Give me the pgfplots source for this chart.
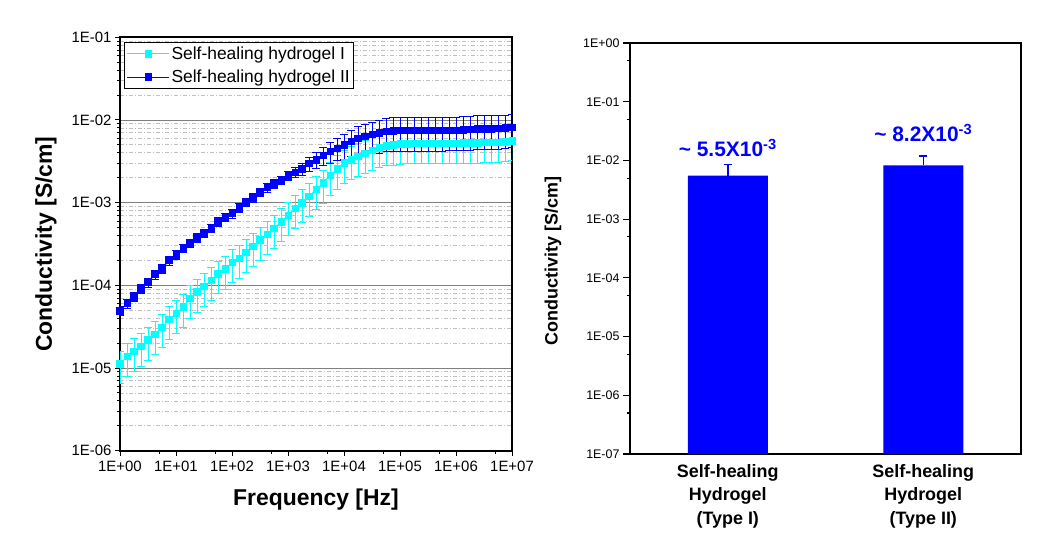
\documentclass[border=0pt]{standalone}
\usepackage{fontspec}
\setmainfont{Liberation Sans}
\usepackage{pgfplots}
\usepackage{pgfplotstable}
\pgfplotsset{compat=1.18}
\definecolor{cy}{RGB}{0,255,255}
\definecolor{bl}{RGB}{0,0,255}
\definecolor{majg}{RGB}{128,128,128}
\definecolor{ming}{RGB}{192,192,192}
\newcommand{\tl}{\fontsize{15}{17}\selectfont}
\newcommand{\tr}{\fontsize{12.5}{14}\selectfont}

% Self-healing hydrogel I (cyan)
\pgfplotstableread{
f y e
1 1.122e-5 4.8e-6
1.334 1.380e-5 5.9e-6
1.778 1.585e-5 6.8e-6
2.371 1.820e-5 7.8e-6
3.162 2.188e-5 9.4e-6
4.217 2.570e-5 1.11e-5
5.623 3.090e-5 1.33e-5
7.499 3.890e-5 1.67e-5
10 4.571e-5 1.97e-5
13.34 5.495e-5 2.36e-5
17.78 6.918e-5 2.97e-5
23.71 8.318e-5 3.58e-5
31.62 9.772e-5 4.20e-5
42.17 1.148e-4 4.94e-5
56.23 1.380e-4 5.93e-5
74.99 1.585e-4 6.82e-5
100 1.905e-4 8.19e-5
133.4 2.138e-4 9.19e-5
177.8 2.512e-4 1.08e-4
237.1 2.951e-4 1.27e-4
316.2 3.548e-4 1.53e-4
421.7 4.169e-4 1.79e-4
562.3 4.898e-4 2.11e-4
749.9 5.888e-4 2.53e-4
1000 7.079e-4 3.04e-4
1334 8.511e-4 3.66e-4
1778 1.000e-3 4.30e-4
2371 1.202e-3 5.17e-4
3162 1.445e-3 6.21e-4
4217 1.738e-3 7.47e-4
5623 2.138e-3 9.19e-4
7499 2.570e-3 1.11e-3
1e4 3.020e-3 1.30e-3
1.334e4 3.311e-3 1.42e-3
1.778e4 3.631e-3 1.56e-3
2.371e4 3.936e-3 1.69e-3
3.162e4 4.266e-3 1.83e-3
4.217e4 4.624e-3 1.99e-3
5.623e4 4.898e-3 2.11e-3
7.499e4 5.012e-3 2.16e-3
1e5 5.13e-3 2.2e-3
1.334e5 5.15e-3 2.2e-3
1.778e5 5.2e-3 2.24e-3
2.371e5 5.2e-3 2.24e-3
3.162e5 5.2e-3 2.24e-3
4.217e5 5.2e-3 2.24e-3
5.623e5 5.25e-3 2.26e-3
7.499e5 5.25e-3 2.26e-3
1e6 5.25e-3 2.26e-3
1.334e6 5.3e-3 2.28e-3
1.778e6 5.3e-3 2.28e-3
2.371e6 5.3e-3 2.28e-3
3.162e6 5.35e-3 2.3e-3
4.217e6 5.35e-3 2.3e-3
5.623e6 5.4e-3 2.32e-3
7.499e6 5.45e-3 2.34e-3
1e7 5.6e-3 2.4e-3
}\tabI

% Self-healing hydrogel II (blue)
\pgfplotstableread{
f y e
1 4.90e-5 5.9e-6
1.334 6.03e-5 7.2e-6
1.778 7.24e-5 8.7e-6
2.371 9.12e-5 1.09e-5
3.162 1.084e-4 1.30e-5
4.217 1.349e-4 1.62e-5
5.623 1.585e-4 1.90e-5
7.499 1.995e-4 2.39e-5
10 2.344e-4 2.81e-5
13.34 2.818e-4 3.38e-5
17.78 3.236e-4 3.88e-5
23.71 3.758e-4 4.51e-5
31.62 4.266e-4 5.12e-5
42.17 4.898e-4 5.88e-5
56.23 5.888e-4 7.07e-5
74.99 6.683e-4 8.02e-5
100 7.413e-4 8.90e-5
133.4 8.710e-4 1.05e-4
177.8 1.012e-3 1.21e-4
237.1 1.148e-3 1.38e-4
316.2 1.334e-3 1.60e-4
421.7 1.531e-3 1.84e-4
562.3 1.698e-3 2.04e-4
749.9 1.862e-3 2.23e-4
1000 2.113e-3 2.75e-4
1334 2.317e-3 3.24e-4
1778 2.570e-3 4.11e-4
2371 2.985e-3 5.67e-4
3162 3.311e-3 7.28e-4
4217 3.758e-3 9.40e-4
5623 4.169e-3 1.17e-3
7499 4.571e-3 1.37e-3
1e4 5.012e-3 1.65e-3
1.334e4 5.495e-3 1.92e-3
1.778e4 6.026e-3 2.23e-3
2.371e4 6.383e-3 2.49e-3
3.162e4 6.683e-3 2.74e-3
4.217e4 6.998e-3 3.01e-3
5.623e4 7.244e-3 3.11e-3
7.499e4 7.413e-3 3.26e-3
1e5 7.5e-3 3.3e-3
1.334e5 7.5e-3 3.3e-3
1.778e5 7.5e-3 3.3e-3
2.371e5 7.45e-3 3.3e-3
3.162e5 7.5e-3 3.3e-3
4.217e5 7.5e-3 3.3e-3
5.623e5 7.5e-3 3.3e-3
7.499e5 7.55e-3 3.3e-3
1e6 7.55e-3 3.3e-3
1.334e6 7.6e-3 3.35e-3
1.778e6 7.7e-3 3.4e-3
2.371e6 7.8e-3 3.4e-3
3.162e6 7.85e-3 3.45e-3
4.217e6 7.85e-3 3.45e-3
5.623e6 7.9e-3 3.5e-3
7.499e6 8.0e-3 3.5e-3
1e7 8.2e-3 3.6e-3
}\tabII

% Bar chart
\pgfplotstableread{
x y e
0 5.5e-3 3.1e-3
1 8.2e-3 3.8e-3
}\tabBar

\begin{document}
\begin{tikzpicture}
\useasboundingbox (0,0) rectangle (1041bp,542bp);
\begin{axis}[
  scale only axis, width=392bp, height=413.4bp,
  at={(120bp,91.3bp)}, anchor=south west,
  xmode=log, ymode=log, xmin=1, xmax=1e7, ymin=1e-6, ymax=1e-1,
  xtick={1,10,100,1000,1e4,1e5,1e6,1e7},
  xticklabels={{\tl 1E+00},{\tl 1E+01},{\tl 1E+02},{\tl 1E+03},{\tl 1E+04},{\tl 1E+05},{\tl 1E+06},{\tl 1E+07}},
  minor xtick={5,50,500,5000,5e4,5e5,5e6},
  ytick={1e-6,1e-5,1e-4,1e-3,1e-2,1e-1},
  yticklabels={{\tl 1E-06},{\tl 1E-05},{\tl 1E-04},{\tl 1E-03},{\tl 1E-02},{\tl 1E-01}},
  tick align=outside, xtick pos=bottom, ytick pos=left,
  major tick length=5bp, minor tick length=3bp,
  tick style={black, line width=1bp},
  axis line style={line width=2.2bp},
  ymajorgrids, yminorgrids,
  major grid style={majg, line width=0.9bp, solid},
  minor grid style={ming, line width=0.8bp, dash pattern=on 4bp off 2bp on 1bp off 2bp},
  xticklabel shift=2bp,
  yticklabel shift=0bp,
  xlabel={Frequency [Hz]}, ylabel={Conductivity [S/cm]},
  label style={font=\bfseries\fontsize{23}{27}\selectfont},
  xlabel style={at={(rel axis cs:0.5,-0.1185)}, anchor=center},
  ylabel style={at={(rel axis cs:-0.189,0.5)}, anchor=center},
  legend style={at={(0.011,0.989)}, anchor=north west, draw=black, line width=0.8bp,
    font=\fontsize{17.5}{20}\selectfont, fill=white, inner xsep=2bp, inner ysep=2.5bp,
    row sep=5bp},
  legend cell align=left,
  legend image code/.code={\draw[mark repeat=2,mark phase=2,#1] plot coordinates {(0bp,0bp) (21bp,0bp) (42bp,0bp)};},
]
\addplot[cy, line width=0.8bp, mark=square*, mark size=3.2bp, mark options={solid, fill=cy, draw=cy, line width=0.6bp},
  error bars/.cd, y dir=both, y explicit,
  error bar style={cy, line width=0.9bp},
  error mark options={rotate=90, cy, mark size=4bp, line width=0.9bp}]
  table[x=f, y=y, y error=e] {\tabI};
\addlegendentry{Self-healing hydrogel I}
\addplot[bl, line width=0.8bp, mark=square*, mark size=3.2bp, mark options={solid, fill=bl, draw=bl, line width=0.6bp},
  error bars/.cd, y dir=both, y explicit,
  error bar style={bl, line width=0.9bp},
  error mark options={rotate=90, bl, mark size=4bp, line width=0.9bp}]
  table[x=f, y=y, y error=e] {\tabII};
\addlegendentry{Self-healing hydrogel II}
\end{axis}

\begin{axis}[
  scale only axis, width=391bp, height=411bp,
  at={(630bp,88bp)}, anchor=south west,
  ymode=log, ymin=1e-7, ymax=1, xmin=-0.5, xmax=1.5,
  log origin=infty,
  xtick={0,1},
  xticklabels={{Self-healing\\Hydrogel\\(Type I)},{Self-healing\\Hydrogel\\(Type II)}},
  xticklabel style={align=center, font=\bfseries\fontsize{18}{23.5}\selectfont},
  xtick style={draw=none},
  ytick={1e-7,1e-6,1e-5,1e-4,1e-3,1e-2,1e-1,1},
  yticklabels={{\tr 1E-07},{\tr 1E-06},{\tr 1E-05},{\tr 1E-04},{\tr 1E-03},{\tr 1E-02},{\tr 1E-01},{\tr 1E+00}},
  minor ytick={5e-7,5e-6,5e-5,5e-4,5e-3,5e-2,5e-1},
  tick align=outside, ytick pos=left,
  major tick length=7bp, minor tick length=3.5bp,
  tick style={black, line width=1.2bp},
  axis line style={line width=2bp},
  ylabel={Conductivity [S/cm]},
  ylabel style={font=\bfseries\fontsize{18}{21}\selectfont, at={(rel axis cs:-0.197,0.47)}, anchor=center},
]
\addplot[ybar, bar width=80bp, fill=bl, draw=none,
  error bars/.cd, y dir=plus, y explicit,
  error bar style={bl, line width=1.5bp},
  error mark options={rotate=90, bl, mark size=4bp, line width=1.5bp}]
  table[x=x, y=y, y error=e] {\tabBar};
\node[text=bl, font=\bfseries\fontsize{21}{24}\selectfont] at (axis cs:0,1.63e-2) {\textasciitilde{} 5.5X10\textsuperscript{-3}};
\node[text=bl, font=\bfseries\fontsize{21}{24}\selectfont] at (axis cs:1,2.93e-2) {\textasciitilde{} 8.2X10\textsuperscript{-3}};
\end{axis}
\end{tikzpicture}
\end{document}
